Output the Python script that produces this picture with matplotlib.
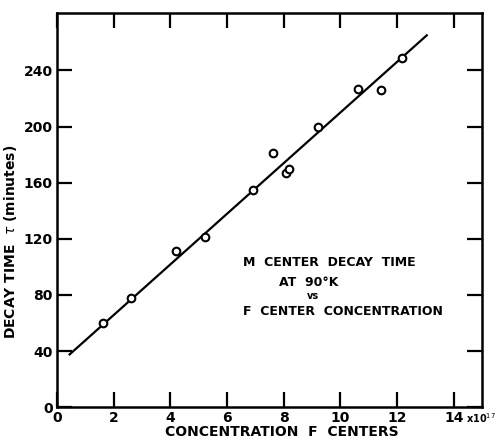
import numpy as np
import matplotlib.pyplot as plt

# measured points (concentration in units of 1e17, decay time in minutes)
conc = [1.62, 2.6, 4.19, 5.23, 6.91, 7.64, 8.09, 8.2, 9.22, 10.63, 11.45, 12.16]
tau = [60, 78, 111, 121, 155, 181, 167, 170, 200, 227, 226, 249]

# straight line drawn through the data
fit_x = [0.45, 13.05]
fit_y = [37.6, 265]

xticks = [0, 2, 4, 6, 8, 10, 12, 14]
yticks = [0, 40, 80, 120, 160, 200, 240]

plt.rcParams['font.family'] = ['DejaVu Sans']

fig = plt.figure(figsize=(4.99, 4.44), dpi=100)
ax = fig.add_axes([0.114, 0.083, 0.852, 0.888])

ax.plot(fit_x, fit_y, color='black', lw=1.6)
ax.plot(conc, tau, 'o', ms=5.5, mfc='white', mec='black', mew=1.5)

ax.set_xlim(0, 15)
ax.set_ylim(0, 281)
ax.set_xticks(xticks)
ax.set_yticks(yticks)
ax.set_xticklabels([str(v) for v in xticks])
ax.set_yticklabels([str(v) for v in yticks])
ax.tick_params(direction='in', length=11, width=1.6, top=True, right=True,
               labelsize=10, pad=3)
for lab in ax.get_xticklabels() + ax.get_yticklabels():
    lab.set_fontweight('bold')
for s in ax.spines.values():
    s.set_linewidth(1.8)

ax.set_xlabel('CONCENTRATION  F  CENTERS', fontsize=10, fontweight='bold')
ax.set_ylabel(r'DECAY TIME  $\tau$ (minutes)', fontsize=10, fontweight='bold')
ax.xaxis.set_label_coords(0.53, -0.045)
ax.yaxis.set_label_coords(-0.088, 0.42)
ax.text(14.45, -3, r'x10$^{17}$', fontsize=7, fontweight='bold',
        ha='left', va='top', clip_on=False)

ax.text(6.55, 103, 'M  CENTER  DECAY  TIME', fontsize=9, fontweight='bold',
        ha='left', va='center')
ax.text(7.85, 89, 'AT  90°K', fontsize=9, fontweight='bold', ha='left', va='center')
ax.text(9.05, 79, 'vs', fontsize=7, fontweight='bold', ha='center', va='center')
ax.text(6.55, 68, 'F  CENTER  CONCENTRATION', fontsize=9, fontweight='bold',
        ha='left', va='center')

fig.savefig('out.png', dpi=100)
